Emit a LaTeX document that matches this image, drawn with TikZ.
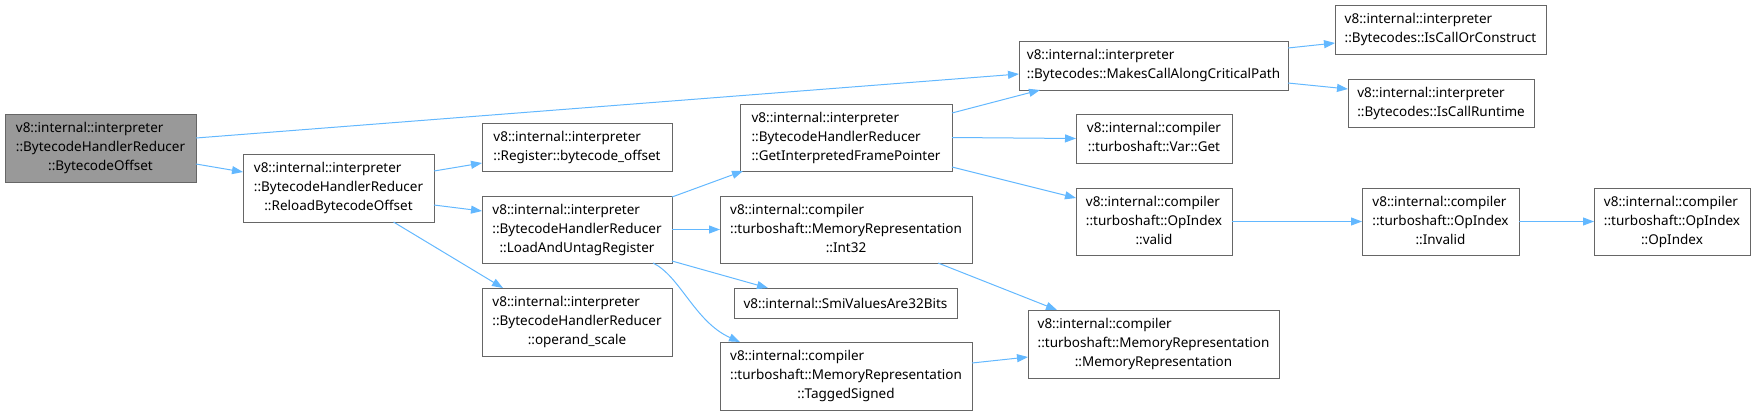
\documentclass[tikz,border=0pt]{standalone}
\usepackage{fontspec}
\setmainfont{Noto Sans}
\usetikzlibrary{arrows.meta,calc}
\definecolor{edgeblue}{HTML}{63B8FF}
\definecolor{boxline}{HTML}{666666}
\definecolor{mainfill}{HTML}{999999}
\newcommand{\dtwo}[2]{\begin{tabular}{@{}l@{}}#1\\\multicolumn{1}{@{}c@{}}{#2}\end{tabular}}
\newcommand{\dthree}[3]{\begin{tabular}{@{}l@{}}#1\\#2\\\multicolumn{1}{@{}c@{}}{#3}\end{tabular}}
\tikzset{
  box/.style={draw=boxline, line width=1pt, fill=white, rectangle, inner sep=0pt, outer sep=0pt,
    font=\fontsize{13.5}{19}\selectfont, text=black},
  mainbox/.style={box, fill=mainfill},
  conn/.style={draw=edgeblue, line width=1pt, -{Triangle[length=11pt,width=8pt]}}
}
\begin{document}
\begin{tikzpicture}[x=1pt,y=-1pt]
\useasboundingbox (0,0) rectangle (1756,416);
% nodes
\node[mainbox, minimum width=191pt, minimum height=68pt] (A) at (100.5,148) {\dthree{v8::internal::interpreter}{::BytecodeHandlerReducer}{::BytecodeOffset}};
\node[box, minimum width=191pt, minimum height=68pt] (B) at (338.5,188) {\dthree{v8::internal::interpreter}{::BytecodeHandlerReducer}{::ReloadBytecodeOffset}};
\node[box, minimum width=190pt, minimum height=48pt] (C) at (577,147) {\dtwo{v8::internal::interpreter}{::Register::bytecode\_offset}};
\node[box, minimum width=190pt, minimum height=67pt] (D) at (577,229.5) {\dthree{v8::internal::interpreter}{::BytecodeHandlerReducer}{::LoadAndUntagRegister}};
\node[box, minimum width=190pt, minimum height=68pt] (E) at (577,322) {\dthree{v8::internal::interpreter}{::BytecodeHandlerReducer}{::operand\_scale}};
\node[box, minimum width=212pt, minimum height=67pt] (F) at (846,137.5) {\dthree{v8::internal::interpreter}{::BytecodeHandlerReducer}{::GetInterpretedFramePointer}};
\node[box, minimum width=252pt, minimum height=67pt] (G) at (846,229.5) {\dthree{v8::internal::compiler}{::turboshaft::MemoryRepresentation}{::Int32}};
\node[box, minimum width=223pt, minimum height=30pt] (H) at (845.5,303) {v8::internal::SmiValuesAre32Bits};
\node[box, minimum width=252pt, minimum height=68pt] (I) at (846,376) {\dthree{v8::internal::compiler}{::turboshaft::MemoryRepresentation}{::TaggedSigned}};
\node[box, minimum width=269pt, minimum height=49pt] (J) at (1153.5,65.5) {\dtwo{v8::internal::interpreter}{::Bytecodes::MakesCallAlongCriticalPath}};
\node[box, minimum width=211pt, minimum height=49pt] (K) at (1440.5,29.5) {\dtwo{v8::internal::interpreter}{::Bytecodes::IsCallOrConstruct}};
\node[box, minimum width=186pt, minimum height=48pt] (L) at (1441,103) {\dtwo{v8::internal::interpreter}{::Bytecodes::IsCallRuntime}};
\node[box, minimum width=156pt, minimum height=49pt] (M) at (1154,138.5) {\dtwo{v8::internal::compiler}{::turboshaft::Var::Get}};
\node[box, minimum width=156pt, minimum height=67pt] (N) at (1154,221.5) {\dthree{v8::internal::compiler}{::turboshaft::OpIndex}{::valid}};
\node[box, minimum width=251pt, minimum height=68pt] (O) at (1153.5,344) {\dthree{v8::internal::compiler}{::turboshaft::MemoryRepresentation}{::MemoryRepresentation}};
\node[box, minimum width=157pt, minimum height=67pt] (P) at (1440.5,221.5) {\dthree{v8::internal::compiler}{::turboshaft::OpIndex}{::Invalid}};
\node[box, minimum width=156pt, minimum height=67pt] (Q) at (1672,221.5) {\dthree{v8::internal::compiler}{::turboshaft::OpIndex}{::OpIndex}};
% edges
\draw[conn] ($(A.east)+(0,-10)$) -- ($(J.west)+(0,8.5)$);
\draw[conn] ($(A.east)+(0,16)$) -- ($(B.west)+(0,-16)$);
\draw[conn] ($(B.east)+(0,-17)$) -- ($(C.west)+(0,16)$);
\draw[conn] ($(B.east)+(0,17)$) -- ($(D.west)+(0,-18.5)$);
\draw[conn] ($(B.south)+(55,0)$) -- ($(E.north)+(-74,0)$);
\draw[conn] ($(D.north east)+(0,1)$) -- ($(F.south west)+(3,0)$);
\draw[conn] (D.east) -- (G.west);
\draw[conn] ($(D.south east)+(0,-2)$) -- ($(H.north west)+(34,0)$);
\draw[conn] ($(D.south)+(76,0)$) .. controls (680,276) and (695,322) .. ($(I.north west)+(20,0)$);
\draw[conn] ($(F.north east)+(0,9)$) -- ($(J.south west)+(21,0)$);
\draw[conn] (F.east) -- (M.west);
\draw[conn] ($(F.east)+(0,29.5)$) -- ($(N.west)+(0,-23.5)$);
\draw[conn] ($(G.south)+(92,0)$) -- ($(O.north west)+(29,0)$);
\draw[conn] ($(I.east)+(0,-13)$) -- ($(O.west)+(0,13)$);
\draw[conn] ($(J.east)+(0,-17.5)$) -- ($(K.west)+(0,13.5)$);
\draw[conn] ($(J.east)+(0,17.5)$) -- ($(L.west)+(0,-14)$);
\draw[conn] (N.east) -- (P.west);
\draw[conn] (P.east) -- (Q.west);
\end{tikzpicture}
\end{document}
